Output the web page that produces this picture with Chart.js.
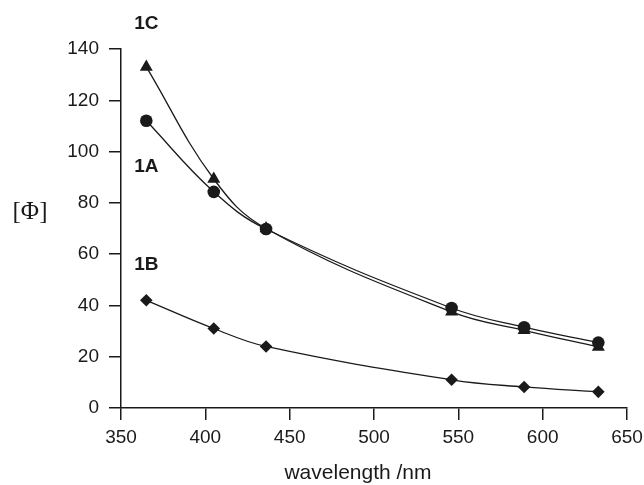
<!DOCTYPE html>
<html><head><meta charset="utf-8">
<script src="https://cdn.jsdelivr.net/npm/chart.js@4/dist/chart.umd.min.js"></script>
<style>html,body{margin:0;padding:0;background:#fff}#wrap{width:644px;height:485px}</style>
</head><body><div id="wrap"><canvas id="c" width="644" height="485"></canvas></div>
<script>
const wavelengths = [365, 405, 436, 546, 589, 633];
const series1A = [112, 84.3, 69.8, 39, 31.5, 25.5];
const series1B = [42, 31, 24, 11, 8.2, 6.3];
const series1C = [133, 89.3, 70, 37.5, 30.3, 23.8];
const xTicks = [350, 400, 450, 500, 550, 600, 650];
const yTicks = [0, 20, 40, 60, 80, 100, 120, 140];
const seriesLabels = [{text:'1C', x:365, y:150},{text:'1A', x:365, y:94},{text:'1B', x:365, y:56}];

const ink = '#1a1a1a';
function pts(vals){ return wavelengths.map((w,i)=>({x:w,y:vals[i]})); }
function ds(vals, style, r){
  return {data:pts(vals), borderColor:ink, backgroundColor:ink, borderWidth:1.3,
    pointStyle:style, pointRadius:r, pointHoverRadius:r, pointBorderWidth:0,
    tension:0.4, fill:false, clip:false};
}
const textPlugin = {
  id:'texts',
  afterDraw(chart){
    const {ctx, chartArea, scales} = chart;
    ctx.save();
    ctx.fillStyle = ink;
    ctx.textAlign = 'center'; ctx.textBaseline = 'middle';
    ctx.font = 'bold 19px "Liberation Sans", Arial, sans-serif';
    seriesLabels.forEach(l=>{ ctx.fillText(l.text, scales.x.getPixelForValue(l.x), scales.y.getPixelForValue(l.y)); });
    ctx.font = '21px "Liberation Sans", Arial, sans-serif';
    ctx.fillText('wavelength /nm', (chartArea.left+chartArea.right)/2 - 16, 473);
    ctx.font = '25px "Liberation Serif", "Times New Roman", serif';
    ctx.fillText('[\u03A6]', 30, 212);
    ctx.restore();
  }
};
new Chart(document.getElementById('c'), {
  type:'scatter',
  data:{datasets:[ds(series1A,'circle',6.3), ds(series1B,'rectRot',6.3), ds(series1C,'triangle',7.5)]},
  options:{
    responsive:false, animation:false, showLine:true,
    layout:{padding:{left:0,right:0,top:49,bottom:0}},
    plugins:{legend:{display:false}, tooltip:{enabled:false}},
    scales:{
      x:{type:'linear', min:350, max:650,
        afterBuildTicks(s){ s.ticks = xTicks.map(v=>({value:v})); },
        afterFit(s){ s.height = 77; s.paddingRight = 17; s.paddingLeft = 0; },
        grid:{display:true, drawOnChartArea:false, drawTicks:true, tickLength:12, color:ink, lineWidth:1.5},
        border:{display:true, color:ink, width:1.5},
        ticks:{color:ink, padding:6, maxRotation:0, font:{family:'"Liberation Sans", Arial, sans-serif', size:19}}
      },
      y:{type:'linear', min:0, max:140,
        afterBuildTicks(s){ s.ticks = yTicks.map(v=>({value:v})); },
        afterFit(s){ s.width = 121; s.paddingTop = 0; s.paddingBottom = 0; },
        grid:{display:true, drawOnChartArea:false, drawTicks:true, tickLength:12, color:ink, lineWidth:1.5},
        border:{display:true, color:ink, width:1.5},
        ticks:{color:ink, padding:10, font:{family:'"Liberation Sans", Arial, sans-serif', size:19}}
      }
    }
  },
  plugins:[textPlugin]
});
</script></body></html>
